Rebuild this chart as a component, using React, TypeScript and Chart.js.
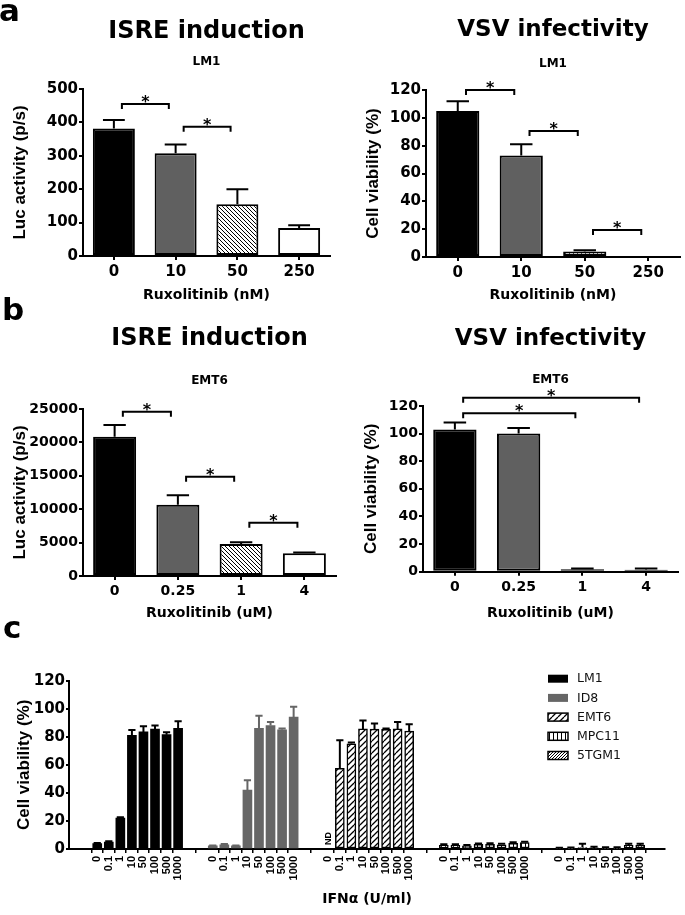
import React, { useEffect, useRef } from "react";
import { Chart, registerables } from "chart.js";

Chart.register(...registerables);

const WIDE = "'DejaVu Sans', Verdana, sans-serif";
const NARROW = "'Liberation Sans', Arial, sans-serif";

// ---------- Panel a : LM1, Ruxolitinib (nM)
const aDoseLabels = ["0", "10", "50", "250"];
const aIsreValues = [382, 308, 155, 84];
const aIsreErrors = [25, 26, 45, 8];
const aIsreBrackets = [[0, 1, 455], [1, 2, 387]];
const aVsvValues = [105, 73, 4, 0];
const aVsvErrors = [7, 8, 0.8, 0];
const aVsvBrackets = [[0, 1, 120], [1, 2, 90.5], [2, 3, 19.4]];

// ---------- Panel b : EMT6, Ruxolitinib (uM)
const bDoseLabels = ["0", "0.25", "1", "4"];
const bIsreValues = [20850, 10650, 4800, 3400];
const bIsreErrors = [1750, 1450, 250, 120];
const bIsreBrackets = [[0, 1, 24600], [1, 2, 14870], [2, 3, 7980]];
const bVsvValues = [103, 100, 1.8, 1.5];
const bVsvErrors = [5, 4, 0.6, 0.9];
const bVsvBrackets = [[0, 2, 114.7], [0, 3, 126]];

// ---------- Panel c : IFNα dose response
const cDoseLabels = ["0", "0.1", "1", "10", "50", "100", "500", "1000"];
const cCellLines = ["LM1", "ID8", "EMT6", "MPC11", "5TGM1"];
const cLM1 = [3.8, 5.0, 22, 81, 83.5, 85.5, 81.5, 86];
const cLM1Err = [0.5, 0.5, 0.6, 3.8, 4, 2.6, 1.8, 5];
const cID8 = [2.2, 3.0, 2.2, 42, 86, 88, 85, 94];
const cID8Err = [0.3, 0.6, 0.3, 7, 9, 2.5, 1, 7.5];
const cEMT6: (number | null)[] = [null, 57.5, 75, 85.6, 85.5, 85.3, 85.6, 84];
const cEMT6Err: (number | null)[] = [null, 20, 1, 6, 4, 0.7, 5, 5];
const cMPC11 = [2.6, 2.6, 2.2, 3.3, 3.3, 3.0, 4.0, 4.5];
const cMPC11Err = [0.7, 0.7, 0.6, 0.7, 0.8, 0.7, 0.9, 0.7];
const c5TGM1 = [0.5, 0.5, 1.0, 0.8, 0.6, 0.6, 2.6, 2.8];
const c5TGM1Err = [0.4, 0.5, 2.8, 0.8, 0.6, 0.6, 1.2, 1.0];
const cYTicks = { min: 0, max: 120, step: 20 };

// ---------- helpers
function makePattern(kind: "back" | "fwd" | "fwdSparse" | "vert"): CanvasPattern {
  const s = kind === "fwdSparse" ? 6 : kind === "back" ? 4 : kind === "vert" ? 4 : 3;
  const c = document.createElement("canvas");
  c.width = s;
  c.height = s;
  const g = c.getContext("2d")!;
  g.fillStyle = "#fff";
  g.fillRect(0, 0, s, s);
  g.strokeStyle = "#000";
  g.lineWidth = kind === "fwdSparse" ? 1.3 : 1;
  g.beginPath();
  if (kind === "vert") {
    g.moveTo(1.5, 0);
    g.lineTo(1.5, s);
  } else {
    for (const k of [-1, 0, 1]) {
      if (kind === "back") {
        g.moveTo(k * s, 0);
        g.lineTo(k * s + s, s);
      } else {
        g.moveTo(k * s, s);
        g.lineTo(k * s + s, 0);
      }
    }
  }
  g.stroke();
  return g.createPattern(c, "repeat")!;
}

function errorBarPlugin(errors: (number | null)[][], colors: string[], capRatio: number, lw: number) {
  return {
    id: "errorBars",
    afterDatasetsDraw(chart: any) {
      const ctx = chart.ctx;
      const ys = chart.scales.y;
      chart.data.datasets.forEach((ds: any, di: number) => {
        const meta = chart.getDatasetMeta(di);
        meta.data.forEach((el: any, i: number) => {
          const raw = ds.data[i];
          const v = typeof raw === "number" ? raw : raw ? raw.y : null;
          const err = errors[di] ? errors[di][i] : null;
          if (v == null || err == null || err <= 0) return;
          const top = ys.getPixelForValue(v + err);
          const w = el.width * capRatio;
          ctx.save();
          ctx.strokeStyle = colors[di];
          ctx.lineWidth = lw;
          ctx.beginPath();
          ctx.moveTo(el.x, el.y);
          ctx.lineTo(el.x, top);
          ctx.moveTo(el.x - w / 2, top);
          ctx.lineTo(el.x + w / 2, top);
          ctx.stroke();
          ctx.restore();
        });
      });
    },
  };
}

function bracketPlugin(items: number[][]) {
  return {
    id: "brackets",
    afterDraw(chart: any) {
      const ctx = chart.ctx;
      const xs = chart.scales.x;
      const ys = chart.scales.y;
      const step = xs.getPixelForValue(1) - xs.getPixelForValue(0);
      ctx.save();
      ctx.strokeStyle = "#000";
      ctx.lineWidth = 2;
      ctx.fillStyle = "#000";
      ctx.font = `bold 16px ${WIDE}`;
      ctx.textAlign = "center";
      ctx.textBaseline = "alphabetic";
      for (const [a, b, v] of items) {
        const x1 = xs.getPixelForValue(a) + 0.13 * step;
        const x2 = xs.getPixelForValue(b) - 0.11 * step;
        const y = ys.getPixelForValue(v);
        ctx.beginPath();
        ctx.moveTo(x1, y + 5);
        ctx.lineTo(x1, y);
        ctx.lineTo(x2, y);
        ctx.lineTo(x2, y + 5);
        ctx.stroke();
        ctx.fillText("*", (x1 + x2) / 2, y + 3);
      }
      ctx.restore();
    },
  };
}

type Box = { w: number; h: number; left: number; right: number; top: number; bottom: number };

function titlePads(tSize: number, tY: number, sSize: number, sY: number, areaTop: number) {
  const tl = tSize * 1.2;
  const sl = sSize * 1.2;
  const pt = tY - tl / 2;
  const st = sY - sl / 2 - (pt + tl);
  const sb = areaTop - sY - sl / 2;
  return { title: { top: pt, bottom: 0 }, sub: { top: st, bottom: sb } };
}

type Spec = {
  box: Box;
  labels: string[];
  values: number[];
  errors: number[];
  brackets: number[][];
  title: string;
  titleSize: number;
  titleY: number;
  subtitle: string;
  subY: number;
  yMax: number;
  yStep: number;
  yTitle: string;
  yTitleX: number;
  xTitle: string;
  xTitleY: number;
  tickSize: number;
};

function buildBarPanel(s: Spec) {
  const hatch = makePattern("back");
  const fills: any[] = ["#000", "#606060", hatch, "#fff"];
  const b = s.box;
  const pads = titlePads(s.titleSize, s.titleY, 12, s.subY, b.top);
  const padLeft = s.yTitleX - 4 - 17 * 0.6;
  const padBottom = b.h - s.xTitleY - 14 * 0.6;
  const yWidth = b.left - padLeft;
  const xHeight = b.h - padBottom - b.bottom;
  return {
    type: "bar",
    data: {
      labels: s.labels,
      datasets: [
        {
          data: s.values,
          backgroundColor: fills,
          borderColor: "#000",
          borderWidth: 2,
          borderSkipped: false,
          barPercentage: 0.68,
          categoryPercentage: 1,
        },
      ],
    },
    options: {
      responsive: false,
      animation: false,
      layout: { padding: { left: padLeft, right: b.w - b.right, top: 0, bottom: padBottom } },
      plugins: {
        legend: { display: false },
        tooltip: { enabled: false },
        title: {
          display: true,
          text: s.title,
          fullSize: false,
          color: "#000",
          font: { family: WIDE, size: s.titleSize, weight: "bold" },
          padding: pads.title,
        },
        subtitle: {
          display: true,
          text: s.subtitle,
          fullSize: false,
          color: "#000",
          font: { family: WIDE, size: 12, weight: "bold" },
          padding: pads.sub,
        },
      },
      scales: {
        x: {
          type: "category",
          offset: true,
          afterFit: (sc: any) => {
            sc.height = xHeight;
          },
          grid: { offset: false, drawOnChartArea: false, drawTicks: true, tickLength: 4, color: "#000", lineWidth: 2 },
          border: { display: true, color: "#000", width: 2 },
          ticks: { color: "#000", font: { family: WIDE, size: s.tickSize, weight: "bold" }, padding: 3, maxRotation: 0 },
          title: {
            display: true,
            text: s.xTitle,
            color: "#000",
            font: { family: WIDE, size: 14, weight: "bold" },
            padding: { top: 4, bottom: 0 },
          },
        },
        y: {
          min: 0,
          max: s.yMax,
          afterFit: (sc: any) => {
            sc.width = yWidth;
          },
          grid: { drawOnChartArea: false, drawTicks: true, tickLength: 4, color: "#000", lineWidth: 2 },
          border: { display: true, color: "#000", width: 2 },
          ticks: {
            stepSize: s.yStep,
            color: "#000",
            padding: 1,
            font: { family: WIDE, size: s.tickSize, weight: "bold" },
            callback: (v: any) => String(v),
          },
          title: {
            display: true,
            text: s.yTitle,
            color: "#000",
            font: { family: NARROW, size: 17, weight: "bold" },
            padding: { top: 4, bottom: 0 },
          },
        },
      },
    },
    plugins: [errorBarPlugin([s.errors], ["#000"], 0.52, 2), bracketPlugin(s.brackets)],
  };
}

function buildPanelC() {
  const box: Box = { w: 685, h: 288, left: 69, right: 665, top: 53.7, bottom: 222 };
  const padLeft = 24.5 - 4 - 17 * 0.6;
  const padBottom = box.h - 272 - 14 * 0.6;
  const yWidth = box.left - padLeft;
  const xHeight = box.h - padBottom - box.bottom;
  const series = [cLM1, cID8, cEMT6, cMPC11, c5TGM1];
  const errs = [cLM1Err, cID8Err, cEMT6Err, cMPC11Err, c5TGM1Err];
  const positions = cCellLines.flatMap((_, g) => cDoseLabels.map((__, i) => g * 10 + i));
  const tickLabels = cCellLines.flatMap(() => cDoseLabels);
  const fills: any[] = ["#000", "#666", makePattern("fwdSparse"), makePattern("vert"), makePattern("fwd")];
  const borders = [0, 0, 1.5, 1.5, 1.5];
  const errColors = ["#000", "#666", "#000", "#000", "#000"];

  const legendPlugin = {
    id: "cLegend",
    afterDraw(chart: any) {
      const ctx = chart.ctx;
      const area = chart.chartArea;
      ctx.save();
      chart.data.datasets.forEach((ds: any, i: number) => {
        const cy = area.top - 2 + i * 19.2;
        const x0 = area.right - 117;
        ctx.fillStyle = ds.backgroundColor;
        ctx.fillRect(x0, cy - 4, 20, 8);
        if (ds.borderWidth) {
          ctx.lineWidth = 1.5;
          ctx.strokeStyle = "#000";
          ctx.strokeRect(x0, cy - 4, 20, 8);
        }
        ctx.fillStyle = "#111";
        ctx.font = `12.5px ${WIDE}`;
        ctx.textAlign = "left";
        ctx.textBaseline = "middle";
        ctx.fillText(ds.label, x0 + 29, cy + 0.5);
      });
      ctx.restore();
    },
  };

  const ndPlugin = {
    id: "notDetected",
    afterDatasetsDraw(chart: any) {
      const ctx = chart.ctx;
      const xs = chart.scales.x;
      const base = chart.chartArea.bottom;
      chart.data.datasets.forEach((ds: any) => {
        ds.data.forEach((p: any) => {
          if (p.y !== null) return;
          ctx.save();
          ctx.translate(xs.getPixelForValue(p.x), base - 4);
          ctx.rotate(-Math.PI / 2);
          ctx.fillStyle = "#000";
          ctx.font = `bold 9px ${NARROW}`;
          ctx.textAlign = "left";
          ctx.textBaseline = "middle";
          ctx.fillText("ND", 0, 0);
          ctx.restore();
        });
      });
    },
  };

  return {
    type: "bar",
    data: {
      datasets: series.map((vals, g) => ({
        label: cCellLines[g],
        data: vals.map((v, i) => ({ x: g * 10 + i, y: v })),
        backgroundColor: fills[g],
        borderColor: "#000",
        borderWidth: borders[g],
        borderSkipped: false,
        barThickness: 9,
        grouped: false,
      })),
    },
    options: {
      responsive: false,
      animation: false,
      layout: { padding: { left: padLeft, right: box.w - box.right, top: box.top, bottom: padBottom } },
      plugins: { legend: { display: false }, tooltip: { enabled: false } },
      scales: {
        x: {
          type: "linear",
          min: -1.8,
          max: 48.5,
          afterBuildTicks: (sc: any) => {
            sc.ticks = positions.map((v) => ({ value: v }));
          },
          afterFit: (sc: any) => {
            sc.height = xHeight;
          },
          grid: { drawOnChartArea: false, drawTicks: true, tickLength: 4, color: "#000", lineWidth: 1.5 },
          border: { display: true, color: "#000", width: 2 },
          ticks: {
            autoSkip: false,
            minRotation: 90,
            maxRotation: 90,
            padding: 3,
            color: "#000",
            font: { family: NARROW, size: 11, weight: "bold" },
            callback: (_v: any, i: number) => tickLabels[i],
          },
          title: {
            display: true,
            text: "IFNα (U/ml)",
            color: "#000",
            font: { family: WIDE, size: 14, weight: "bold" },
            padding: { top: 4, bottom: 0 },
          },
        },
        y: {
          min: cYTicks.min,
          max: cYTicks.max,
          afterFit: (sc: any) => {
            sc.width = yWidth;
          },
          grid: { drawOnChartArea: false, drawTicks: true, tickLength: 3, color: "#000", lineWidth: 2 },
          border: { display: true, color: "#000", width: 2 },
          ticks: {
            stepSize: cYTicks.step,
            color: "#000",
            padding: 1,
            font: { family: WIDE, size: 15, weight: "bold" },
          },
          title: {
            display: true,
            text: "Cell viability (%)",
            color: "#000",
            font: { family: NARROW, size: 17, weight: "bold" },
            padding: { top: 4, bottom: 0 },
          },
        },
      },
    },
    plugins: [errorBarPlugin(errs, errColors, 0.8, 2), legendPlugin, ndPlugin],
  };
}

function ChartCanvas(props: { left: number; top: number; width: number; height: number; build: () => any }) {
  const ref = useRef<HTMLCanvasElement>(null);
  useEffect(() => {
    const chart = new Chart(ref.current as HTMLCanvasElement, props.build());
    return () => chart.destroy();
  }, []);
  return (
    <canvas
      ref={ref}
      width={props.width}
      height={props.height}
      style={{ position: "absolute", left: props.left, top: props.top, width: props.width, height: props.height }}
    />
  );
}

const letterStyle = (left: number, top: number): React.CSSProperties => ({
  position: "absolute",
  left,
  top,
  font: `bold 31px/31px ${WIDE}`,
  color: "#000",
});

export default function App() {
  return (
    <div style={{ position: "absolute", left: 0, top: 0, width: 685, height: 915, background: "#fff", overflow: "hidden" }}>
      <ChartCanvas
        left={0}
        top={0}
        width={340}
        height={305}
        build={() =>
          buildBarPanel({
            box: { w: 340, h: 305, left: 83, right: 330, top: 89, bottom: 256 },
            labels: aDoseLabels,
            values: aIsreValues,
            errors: aIsreErrors,
            brackets: aIsreBrackets,
            title: "ISRE induction",
            titleSize: 24,
            titleY: 31.5,
            subtitle: "LM1",
            subY: 61.5,
            yMax: 500,
            yStep: 100,
            yTitle: "Luc activity (p/s)",
            yTitleX: 20,
            xTitle: "Ruxolitinib (nM)",
            xTitleY: 295,
            tickSize: 15,
          })
        }
      />
      <ChartCanvas
        left={340}
        top={0}
        width={345}
        height={305}
        build={() =>
          buildBarPanel({
            box: { w: 345, h: 305, left: 86, right: 340, top: 90, bottom: 257 },
            labels: aDoseLabels,
            values: aVsvValues,
            errors: aVsvErrors,
            brackets: aVsvBrackets,
            title: "VSV infectivity",
            titleSize: 23,
            titleY: 30.5,
            subtitle: "LM1",
            subY: 64,
            yMax: 120,
            yStep: 20,
            yTitle: "Cell viability (%)",
            yTitleX: 33.5,
            xTitle: "Ruxolitinib (nM)",
            xTitleY: 295,
            tickSize: 15,
          })
        }
      />
      <ChartCanvas
        left={0}
        top={305}
        width={340}
        height={322}
        build={() =>
          buildBarPanel({
            box: { w: 340, h: 322, left: 83, right: 336, top: 104, bottom: 271 },
            labels: bDoseLabels,
            values: bIsreValues,
            errors: bIsreErrors,
            brackets: bIsreBrackets,
            title: "ISRE induction",
            titleSize: 24,
            titleY: 34,
            subtitle: "EMT6",
            subY: 76,
            yMax: 25000,
            yStep: 5000,
            yTitle: "Luc activity (p/s)",
            yTitleX: 20,
            xTitle: "Ruxolitinib (uM)",
            xTitleY: 308.5,
            tickSize: 14,
          })
        }
      />
      <ChartCanvas
        left={340}
        top={305}
        width={345}
        height={322}
        build={() =>
          buildBarPanel({
            box: { w: 345, h: 322, left: 83, right: 338, top: 101, bottom: 266.7 },
            labels: bDoseLabels,
            values: bVsvValues,
            errors: bVsvErrors,
            brackets: bVsvBrackets,
            title: "VSV infectivity",
            titleSize: 23,
            titleY: 34,
            subtitle: "EMT6",
            subY: 75,
            yMax: 120,
            yStep: 20,
            yTitle: "Cell viability (%)",
            yTitleX: 31.5,
            xTitle: "Ruxolitinib (uM)",
            xTitleY: 308.5,
            tickSize: 14,
          })
        }
      />
      <ChartCanvas left={0} top={627} width={685} height={288} build={buildPanelC} />
      <div style={letterStyle(-1, -5.5)}>a</div>
      <div style={letterStyle(2, 294)}>b</div>
      <div style={letterStyle(3, 612)}>c</div>
    </div>
  );
}
